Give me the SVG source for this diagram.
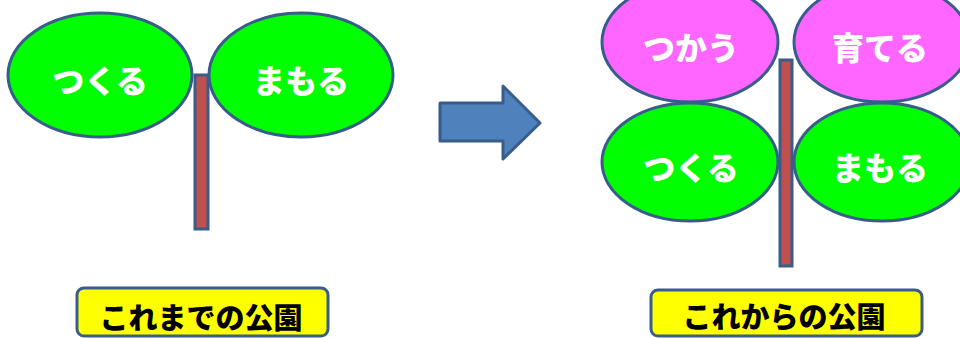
<svg xmlns="http://www.w3.org/2000/svg" width="960" height="338" viewBox="0 0 960 338">
<style>
.leaf{stroke:#385D8A;stroke-width:3}
.g{fill:#00FF00}
.p{fill:#FF66FF}
.stem{fill:#C0504D;stroke:#385D8A;stroke-width:3}
.lt{font-family:"Noto Sans CJK JP","Noto Sans CJK SC",sans-serif;font-weight:900;font-size:32px;fill:#FFFFFF;text-anchor:middle;dominant-baseline:central}
.box{fill:#FFFF00;stroke:#385D8A;stroke-width:3}
.bt{font-family:"Noto Sans CJK JP","Noto Sans CJK SC",sans-serif;font-weight:900;font-size:29px;fill:#000000;text-anchor:middle}
</style>
<rect width="960" height="338" fill="#FFFFFF"/>
<g id="old-stem"><rect class="stem" x="195" y="75" width="13" height="154"/></g>
<g id="old-tsukuru"><ellipse class="leaf g" cx="100" cy="75" rx="92" ry="62"/><text class="lt" x="100" y="79">つくる</text></g>
<g id="old-mamoru"><ellipse class="leaf g" cx="301" cy="75" rx="92" ry="62"/><text class="lt" x="301" y="79">まもる</text></g>
<g id="arrow"><polygon points="440,103 503,103 503,86 540,123 503,159 503,141 440,141" fill="#4F81BD" stroke="#385D8A" stroke-width="3" stroke-linejoin="round"/></g>
<g id="new-stem"><rect class="stem" x="780" y="60" width="12" height="206"/></g>
<g id="new-tsukau"><ellipse class="leaf p" cx="690" cy="42" rx="88" ry="60"/><text class="lt" x="691" y="46">つかう</text></g>
<g id="new-sodateru"><ellipse class="leaf p" cx="882" cy="42" rx="88" ry="60"/><text class="lt" x="880" y="46">育てる</text></g>
<g id="new-tsukuru"><ellipse class="leaf g" cx="690" cy="162" rx="88" ry="59"/><text class="lt" x="691" y="166">つくる</text></g>
<g id="new-mamoru"><ellipse class="leaf g" cx="882" cy="162" rx="88" ry="59"/><text class="lt" x="880" y="166">まもる</text></g>
<g id="label-old"><rect class="box" x="77" y="288" width="251" height="48" rx="7"/><text class="bt" x="201" y="329">これまでの公園</text></g>
<g id="label-new"><rect class="box" x="651" y="290" width="271" height="46" rx="7"/><text class="bt" x="784" y="328">これからの公園</text></g>
</svg>
